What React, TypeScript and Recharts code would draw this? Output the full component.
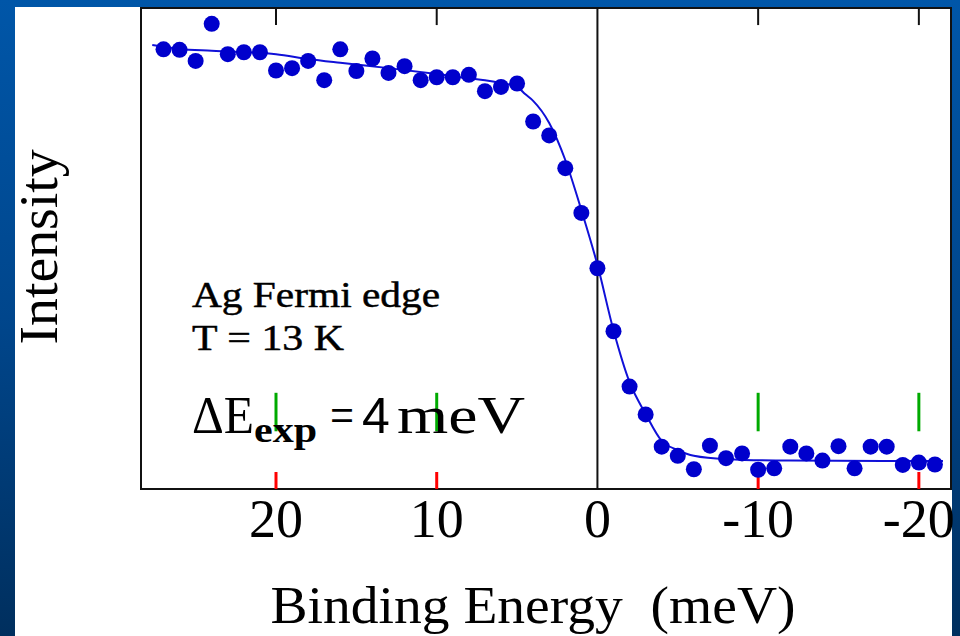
import React from 'react';
import { ComposedChart, Scatter, Line, XAxis, YAxis, ReferenceLine, ReferenceArea, ReferenceDot } from 'recharts';

// Binding energy (meV) of each measured point
const energies = [27, 26, 25, 24, 23, 22, 21, 20, 19, 18, 17, 16, 15, 14, 13, 12, 11, 10, 9, 8, 7, 6, 5, 4, 3, 2, 1, 0,
  -1, -2, -3, -4, -5, -6, -7, -8, -9, -10, -11, -12, -13, -14, -15, -16, -17, -18, -19, -20, -21];
// Measured intensity (arb. units)
const intensities = [91.4, 91.3, 89.0, 96.7, 90.4, 90.8, 90.8, 87.0, 87.5, 89.0, 85.0, 91.4, 86.9, 89.5, 86.5, 87.9, 85.0, 85.6,
  85.6, 86.1, 82.7, 83.6, 84.3, 76.4, 73.5, 66.7, 57.4, 45.9, 32.8, 21.3, 15.5, 8.8, 6.9, 4.1, 9.0, 6.4, 7.4, 4.0, 4.3, 8.8,
  7.4, 5.9, 8.9, 4.3, 8.8, 8.8, 5.0, 5.5, 5.1];

// Fitted Fermi edge curve
const fitEnergies = [27.7, 26, 24, 20, 18, 16, 13, 10, 8, 7, 6, 5, 4.5, 4, 3, 2, 1, 0, -1, -2, -3, -4, -5, -6, -8, -12, -21.5];
const fitIntensities = [92.3, 91.5, 91.1, 90.4, 89.4, 88.6, 87.5, 86.3, 85.4, 85.0, 84.4, 83.6, 82.1, 80.7, 76.1, 68.4, 58.0,
  46.6, 33.0, 22.2, 15.6, 10.0, 8.1, 6.9, 6.2, 5.9, 5.8];

const xTicks = [20, 10, 0, -10, -20];
const markTicks = [20, 10, -10, -20];
const xDomain = [-22, 28.4];
const yDomain = [0, 100];
const tickLen = 3.55; // inward tick length in intensity units

const data = energies.map((e, k) => ({ e, i: intensities[k] }));
const fit = fitEnergies.map((e, k) => ({ e, i: fitIntensities[k] }));

const SERIF = '"Liberation Serif", "Times New Roman", serif';
const SANS = '"Liberation Sans", Arial, sans-serif';
const BLUE = '#0000cc';
const INK = '#111';

const BottomTick = (props: any) => {
  const { x, y, payload } = props;
  return (
    <text x={x} y={y + 48} textAnchor="middle" fontFamily={SERIF} fontSize={54} fill="#000">
      {payload.value}
    </text>
  );
};

const Dot = (props: any) => <circle cx={props.cx} cy={props.cy} r={8} fill={BLUE} />;

// inward tick drawn upward from the scaled anchor point
const TickMark = (props: any) => (
  <path d={`M${props.cx},${props.cy}v-17`} stroke="#ff0000" strokeWidth={3} fill="none" />
);

export default function App() {
  return (
    <div style={{ position: 'absolute', left: 0, top: 0, width: 960, height: 636, overflow: 'hidden',
      background: 'linear-gradient(to bottom, #0056a8 0%, #00468c 50%, #002f5e 100%)' }}>
      <div style={{ position: 'absolute', left: 15, top: 7, width: 937, height: 629, background: '#fff' }} />
      <div style={{ position: 'absolute', left: 0, top: 0 }}>
        <ComposedChart width={960} height={636} margin={{ top: 8, right: 9, bottom: 87, left: 141 }}>
          <XAxis dataKey="e" type="number" domain={xDomain} reversed allowDataOverflow ticks={xTicks}
            tickSize={0} tickMargin={0} height={60} axisLine={false} tickLine={false}
            tick={<BottomTick />} interval={0} />
          <YAxis dataKey="i" type="number" domain={yDomain} hide width={0} />
          <ReferenceArea x1={xDomain[1]} x2={xDomain[0]} y1={yDomain[0]} y2={yDomain[1]} fill="none" fillOpacity={0}
            stroke={INK} strokeWidth={2} />
          {markTicks.map((t) => (
            <ReferenceLine key={'t' + t} segment={[{ x: t, y: yDomain[1] }, { x: t, y: yDomain[1] - tickLen }]}
              stroke={INK} strokeWidth={2} />
          ))}
          {markTicks.map((t) => (
            <ReferenceDot key={'d' + t} x={t} y={yDomain[0]} r={1} ifOverflow="visible" shape={<TickMark />} />
          ))}
          {markTicks.map((t) => (
            <ReferenceLine key={'b' + t} segment={[{ x: t, y: 12 }, { x: t, y: 20 }]}
              stroke="#00aa00" strokeWidth={3} />
          ))}
          <ReferenceLine x={0} stroke={INK} strokeWidth={2} />
          <Line data={fit} dataKey="i" type="monotone" stroke="#1010d8" strokeWidth={2} dot={false}
            isAnimationActive={false} />
          <Scatter data={data} dataKey="i" fill={BLUE} shape={<Dot />} isAnimationActive={false} />
        </ComposedChart>
      </div>
      <svg width={960} height={636} style={{ position: 'absolute', left: 0, top: 0, pointerEvents: 'none' }}>
        <text transform="translate(57,247) rotate(-90)" textAnchor="middle" fontFamily={SERIF} fontSize={55}
          fill="#000" textLength={195} lengthAdjust="spacingAndGlyphs">Intensity</text>
        <text x={533} y={623} textAnchor="middle" fontFamily={SERIF} fontSize={53} fill="#000" textLength={525}
          lengthAdjust="spacingAndGlyphs" style={{ whiteSpace: 'pre' }}>Binding Energy  (meV)</text>
        <text x={192} y={307} fontFamily={SERIF} fontSize={35} fill="#000" stroke="#000" strokeWidth={0.45}
          textLength={248} lengthAdjust="spacingAndGlyphs">Ag Fermi edge</text>
        <text x={192} y={350} fontFamily={SERIF} fontSize={35} fill="#000" stroke="#000" strokeWidth={0.45}
          textLength={152} lengthAdjust="spacingAndGlyphs">T = 13 K</text>
        <text x={192} y={433} fontFamily={SERIF} fontSize={52} fill="#000" textLength={62}
          lengthAdjust="spacingAndGlyphs">ΔE</text>
        <text x={254} y={442} fontFamily={SERIF} fontSize={36} fontWeight="bold" fill="#000" textLength={63}
          lengthAdjust="spacingAndGlyphs">exp</text>
        <text x={330} y={433} fontFamily={SERIF} fontSize={52} fill="#000" textLength={24}
          lengthAdjust="spacingAndGlyphs">=</text>
        <text x={362} y={433} fontFamily={SANS} fontSize={50} fill="#000">4</text>
        <text x={397} y={433} fontFamily={SERIF} fontSize={52} fill="#000" textLength={128}
          lengthAdjust="spacingAndGlyphs">meV</text>
      </svg>
    </div>
  );
}
